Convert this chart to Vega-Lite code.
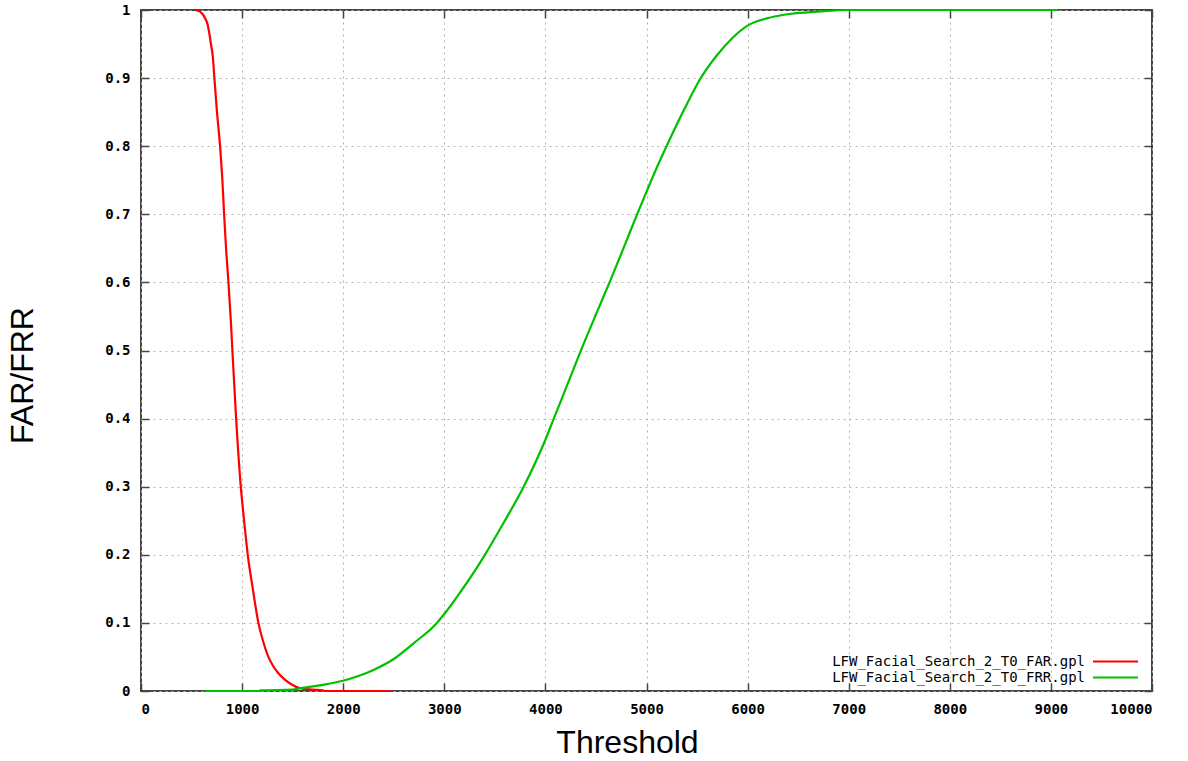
{
  "$schema": "https://vega.github.io/schema/vega-lite/v6.json",
  "autosize": {"type": "none"},
  "padding": {"left": 141, "top": 10, "right": 36, "bottom": 70},
  "width": 1011,
  "height": 681,
  "background": "white",
  "config": {
    "view": {"stroke": "#454545", "strokeWidth": 2},
    "axis": {
      "labelFont": "DejaVu Sans Mono",
      "labelFontWeight": "bold",
      "labelFontSize": 14,
      "labelColor": "#000000",
      "titleFont": "Liberation Sans",
      "titleFontWeight": "normal",
      "titleFontSize": 32,
      "titleColor": "#000000",
      "domain": false,
      "tickColor": "#454545",
      "tickWidth": 1.5,
      "tickSize": -8,
      "labelPadding": 19,
      "gridColor": "#b4b4b4",
      "gridDash": [2, 4],
      "gridWidth": 1
    },
    "legend": {
      "orient": "none",
      "title": null,
      "padding": 0,
      "symbolType": "stroke",
      "symbolSize": 2025,
      "symbolStrokeWidth": 2,
      "labelAlign": "right",
      "labelOffset": -54,
      "labelFont": "DejaVu Sans Mono",
      "labelFontSize": 14,
      "labelColor": "#000000",
      "labelLimit": 400
    }
  },
  "datasets": {
    "far": [
      {"curve": "LFW_Facial_Search_2_T0_FAR.gpl", "t": 535, "v": 1.0},
      {"curve": "LFW_Facial_Search_2_T0_FAR.gpl", "t": 584, "v": 0.9975},
      {"curve": "LFW_Facial_Search_2_T0_FAR.gpl", "t": 634, "v": 0.988},
      {"curve": "LFW_Facial_Search_2_T0_FAR.gpl", "t": 660, "v": 0.978},
      {"curve": "LFW_Facial_Search_2_T0_FAR.gpl", "t": 673, "v": 0.968},
      {"curve": "LFW_Facial_Search_2_T0_FAR.gpl", "t": 693, "v": 0.949},
      {"curve": "LFW_Facial_Search_2_T0_FAR.gpl", "t": 710, "v": 0.932},
      {"curve": "LFW_Facial_Search_2_T0_FAR.gpl", "t": 726, "v": 0.9},
      {"curve": "LFW_Facial_Search_2_T0_FAR.gpl", "t": 750, "v": 0.853},
      {"curve": "LFW_Facial_Search_2_T0_FAR.gpl", "t": 782, "v": 0.8},
      {"curve": "LFW_Facial_Search_2_T0_FAR.gpl", "t": 805, "v": 0.75},
      {"curve": "LFW_Facial_Search_2_T0_FAR.gpl", "t": 822, "v": 0.7},
      {"curve": "LFW_Facial_Search_2_T0_FAR.gpl", "t": 842, "v": 0.648},
      {"curve": "LFW_Facial_Search_2_T0_FAR.gpl", "t": 865, "v": 0.6},
      {"curve": "LFW_Facial_Search_2_T0_FAR.gpl", "t": 888, "v": 0.545},
      {"curve": "LFW_Facial_Search_2_T0_FAR.gpl", "t": 904, "v": 0.5},
      {"curve": "LFW_Facial_Search_2_T0_FAR.gpl", "t": 941, "v": 0.4},
      {"curve": "LFW_Facial_Search_2_T0_FAR.gpl", "t": 987, "v": 0.3},
      {"curve": "LFW_Facial_Search_2_T0_FAR.gpl", "t": 1020, "v": 0.25},
      {"curve": "LFW_Facial_Search_2_T0_FAR.gpl", "t": 1056, "v": 0.2},
      {"curve": "LFW_Facial_Search_2_T0_FAR.gpl", "t": 1106, "v": 0.15},
      {"curve": "LFW_Facial_Search_2_T0_FAR.gpl", "t": 1161, "v": 0.1},
      {"curve": "LFW_Facial_Search_2_T0_FAR.gpl", "t": 1210, "v": 0.072},
      {"curve": "LFW_Facial_Search_2_T0_FAR.gpl", "t": 1260, "v": 0.05},
      {"curve": "LFW_Facial_Search_2_T0_FAR.gpl", "t": 1310, "v": 0.036},
      {"curve": "LFW_Facial_Search_2_T0_FAR.gpl", "t": 1359, "v": 0.026},
      {"curve": "LFW_Facial_Search_2_T0_FAR.gpl", "t": 1420, "v": 0.017},
      {"curve": "LFW_Facial_Search_2_T0_FAR.gpl", "t": 1475, "v": 0.011},
      {"curve": "LFW_Facial_Search_2_T0_FAR.gpl", "t": 1574, "v": 0.004},
      {"curve": "LFW_Facial_Search_2_T0_FAR.gpl", "t": 1700, "v": 0.002},
      {"curve": "LFW_Facial_Search_2_T0_FAR.gpl", "t": 1800, "v": 0.001},
      {"curve": "LFW_Facial_Search_2_T0_FAR.gpl", "t": 1810, "v": 0},
      {"curve": "LFW_Facial_Search_2_T0_FAR.gpl", "t": 2470, "v": 0}
    ],
    "frr": [
      {"curve": "LFW_Facial_Search_2_T0_FRR.gpl", "t": 634, "v": 0},
      {"curve": "LFW_Facial_Search_2_T0_FRR.gpl", "t": 1178, "v": 0},
      {"curve": "LFW_Facial_Search_2_T0_FRR.gpl", "t": 1180, "v": 0.001},
      {"curve": "LFW_Facial_Search_2_T0_FRR.gpl", "t": 1500, "v": 0.002},
      {"curve": "LFW_Facial_Search_2_T0_FRR.gpl", "t": 1574, "v": 0.004},
      {"curve": "LFW_Facial_Search_2_T0_FRR.gpl", "t": 1800, "v": 0.009},
      {"curve": "LFW_Facial_Search_2_T0_FRR.gpl", "t": 1997, "v": 0.015},
      {"curve": "LFW_Facial_Search_2_T0_FRR.gpl", "t": 2150, "v": 0.022},
      {"curve": "LFW_Facial_Search_2_T0_FRR.gpl", "t": 2300, "v": 0.031},
      {"curve": "LFW_Facial_Search_2_T0_FRR.gpl", "t": 2500, "v": 0.047},
      {"curve": "LFW_Facial_Search_2_T0_FRR.gpl", "t": 2696, "v": 0.07},
      {"curve": "LFW_Facial_Search_2_T0_FRR.gpl", "t": 2927, "v": 0.1},
      {"curve": "LFW_Facial_Search_2_T0_FRR.gpl", "t": 3000, "v": 0.113},
      {"curve": "LFW_Facial_Search_2_T0_FRR.gpl", "t": 3158, "v": 0.145},
      {"curve": "LFW_Facial_Search_2_T0_FRR.gpl", "t": 3300, "v": 0.176},
      {"curve": "LFW_Facial_Search_2_T0_FRR.gpl", "t": 3406, "v": 0.201},
      {"curve": "LFW_Facial_Search_2_T0_FRR.gpl", "t": 3587, "v": 0.247},
      {"curve": "LFW_Facial_Search_2_T0_FRR.gpl", "t": 3785, "v": 0.3},
      {"curve": "LFW_Facial_Search_2_T0_FRR.gpl", "t": 4000, "v": 0.369},
      {"curve": "LFW_Facial_Search_2_T0_FRR.gpl", "t": 4083, "v": 0.4},
      {"curve": "LFW_Facial_Search_2_T0_FRR.gpl", "t": 4231, "v": 0.455},
      {"curve": "LFW_Facial_Search_2_T0_FRR.gpl", "t": 4346, "v": 0.498},
      {"curve": "LFW_Facial_Search_2_T0_FRR.gpl", "t": 4500, "v": 0.553},
      {"curve": "LFW_Facial_Search_2_T0_FRR.gpl", "t": 4643, "v": 0.603},
      {"curve": "LFW_Facial_Search_2_T0_FRR.gpl", "t": 4780, "v": 0.653},
      {"curve": "LFW_Facial_Search_2_T0_FRR.gpl", "t": 4907, "v": 0.7},
      {"curve": "LFW_Facial_Search_2_T0_FRR.gpl", "t": 5000, "v": 0.733},
      {"curve": "LFW_Facial_Search_2_T0_FRR.gpl", "t": 5100, "v": 0.768},
      {"curve": "LFW_Facial_Search_2_T0_FRR.gpl", "t": 5205, "v": 0.802},
      {"curve": "LFW_Facial_Search_2_T0_FRR.gpl", "t": 5370, "v": 0.853},
      {"curve": "LFW_Facial_Search_2_T0_FRR.gpl", "t": 5528, "v": 0.898},
      {"curve": "LFW_Facial_Search_2_T0_FRR.gpl", "t": 5699, "v": 0.934},
      {"curve": "LFW_Facial_Search_2_T0_FRR.gpl", "t": 5850, "v": 0.959},
      {"curve": "LFW_Facial_Search_2_T0_FRR.gpl", "t": 6000, "v": 0.977},
      {"curve": "LFW_Facial_Search_2_T0_FRR.gpl", "t": 6200, "v": 0.988},
      {"curve": "LFW_Facial_Search_2_T0_FRR.gpl", "t": 6359, "v": 0.993},
      {"curve": "LFW_Facial_Search_2_T0_FRR.gpl", "t": 6723, "v": 0.998},
      {"curve": "LFW_Facial_Search_2_T0_FRR.gpl", "t": 7000, "v": 1.0},
      {"curve": "LFW_Facial_Search_2_T0_FRR.gpl", "t": 9070, "v": 1.0}
    ]
  },
  "resolve": {"axis": {"x": "independent", "y": "independent"}, "scale": {"color": "independent"}, "legend": {"color": "independent"}},
  "layer": [
    {
      "data": {"name": "frr"},
      "mark": {"type": "line", "opacity": 0},
      "encoding": {
        "x": {"field": "t", "type": "quantitative", "scale": {"domain": [0, 10000], "nice": false},
          "axis": {"orient": "top", "values": [0, 1000, 2000, 3000, 4000, 5000, 6000, 7000, 8000, 9000, 10000], "labels": false, "grid": false, "title": null}},
        "y": {"field": "v", "type": "quantitative", "scale": {"domain": [0, 1], "nice": false},
          "axis": {"orient": "right", "values": [0, 0.1, 0.2, 0.3, 0.4, 0.5, 0.6, 0.7, 0.8, 0.9, 1], "labels": false, "grid": false, "title": null}}
      }
    },
    {
      "data": {"name": "far"},
      "mark": {"type": "line", "strokeWidth": 2.2, "interpolate": "monotone"},
      "encoding": {
        "x": {"field": "t", "type": "quantitative", "scale": {"domain": [0, 10000], "nice": false},
          "axis": {"orient": "bottom", "values": [0, 1000, 2000, 3000, 4000, 5000, 6000, 7000, 8000, 9000, 10000], "format": "d", "grid": true, "title": "Threshold", "titleX": 486, "titleY": 51, "titleBaseline": "middle", "titleAnchor": "middle", "titleAlign": "center"}},
        "y": {"field": "v", "type": "quantitative", "scale": {"domain": [0, 1], "nice": false},
          "axis": {"orient": "left", "values": [0, 0.1, 0.2, 0.3, 0.4, 0.5, 0.6, 0.7, 0.8, 0.9, 1], "format": "~g", "grid": true, "title": "FAR/FRR", "titleX": -119, "titleY": 365, "titleBaseline": "middle", "titleAlign": "center", "titleAngle": -90}},
        "color": {
          "field": "curve", "type": "nominal",
          "scale": {"domain": ["LFW_Facial_Search_2_T0_FAR.gpl"], "range": ["#ff0000"]},
          "legend": {"legendX": 951, "legendY": 628}
        }
      }
    },
    {
      "data": {"name": "frr"},
      "mark": {"type": "line", "strokeWidth": 2.2, "interpolate": "monotone"},
      "encoding": {
        "x": {"field": "t", "type": "quantitative", "scale": {"domain": [0, 10000], "nice": false}, "axis": null},
        "y": {"field": "v", "type": "quantitative", "scale": {"domain": [0, 1], "nice": false}, "axis": null},
        "color": {
          "field": "curve", "type": "nominal",
          "scale": {"domain": ["LFW_Facial_Search_2_T0_FRR.gpl"], "range": ["#00c000"]},
          "legend": {"legendX": 951, "legendY": 644}
        }
      }
    }
  ]
}
